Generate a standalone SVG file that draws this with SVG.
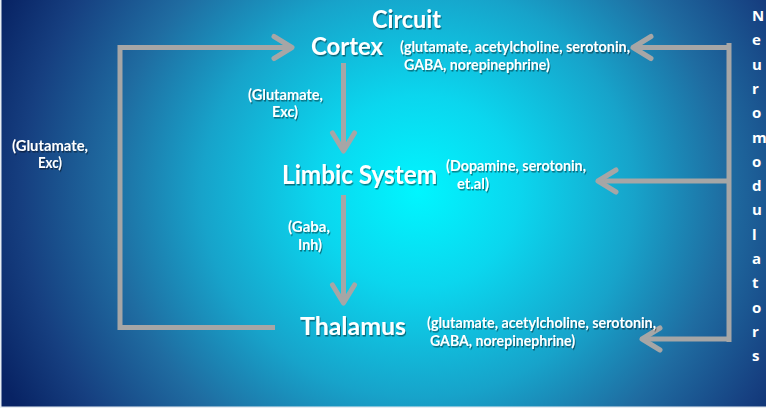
<svg xmlns="http://www.w3.org/2000/svg" width="766" height="408" viewBox="0 0 766 408">
  <defs>
    <radialGradient id="bg" gradientUnits="userSpaceOnUse" cx="418" cy="192" r="460" gradientTransform="translate(418 192) scale(1 0.95) translate(-418 -192)">
      <stop offset="0" stop-color="#00f6ff"/>
      <stop offset="0.22" stop-color="#0bd6ee"/>
      <stop offset="0.47" stop-color="#17a3ca"/>
      <stop offset="0.67" stop-color="#1f6ca1"/>
      <stop offset="0.86" stop-color="#163f80"/>
      <stop offset="1" stop-color="#082364"/>
    </radialGradient>
    <filter id="shadow" x="-10%" y="-30%" width="120%" height="160%">
      <feDropShadow dx="1" dy="1.5" stdDeviation="0.7" flood-color="#000" flood-opacity="0.45"/>
    </filter>
    <marker id="chev" markerUnits="userSpaceOnUse" orient="auto" markerWidth="30" markerHeight="30" viewBox="-24 -15 30 30" refX="0" refY="0">
      <path d="M-18,-11 L0,0 L-18,11" fill="none" stroke="#a6a6a6" stroke-width="5" stroke-linecap="round" stroke-linejoin="round"/>
    </marker>
    <style>
      .node { font-family: Lato, "Open Sans", "Liberation Sans", sans-serif; font-weight: 700; fill: #ffffff; filter: url(#shadow); }
      .big { font-size: 25px; }
      .note { font-family: Lato, "Open Sans", "Liberation Sans", sans-serif; font-weight: 700; font-size: 14.5px; fill: #ffffff; filter: url(#shadow); }
      .side { font-family: "Open Sans", "Liberation Sans", sans-serif; font-weight: 700; font-size: 15px; fill: #ffffff; }
      .wire { fill: none; stroke: #a6a6a6; stroke-width: 5; }
    </style>
  </defs>

  <!-- background -->
  <rect x="0" y="0" width="766" height="408" fill="url(#bg)"/>
  <rect x="0" y="0" width="1.5" height="408" fill="#e8eef4"/>
  <rect x="0" y="406.5" width="766" height="1.5" fill="#e8eef4"/>

  <!-- connectors -->
  <g id="connectors">
    <path class="wire" d="M275,327.5 H120 V47.5 H292" marker-end="url(#chev)"/>
    <path class="wire" d="M343.5,63 V151" marker-end="url(#chev)"/>
    <path class="wire" d="M343.5,195 V303" marker-end="url(#chev)"/>
    <path class="wire" d="M729,43 V342"/>
    <path class="wire" d="M729,47.5 H633" marker-end="url(#chev)"/>
    <path class="wire" d="M729,181 H598" marker-end="url(#chev)"/>
    <path class="wire" d="M729,339 H642" marker-end="url(#chev)"/>
  </g>

  <!-- title -->
  <g id="title">
    <text class="node big" x="372" y="28" textLength="69" lengthAdjust="spacingAndGlyphs">Circuit</text>
  </g>

  <!-- nodes -->
  <g id="cortex">
    <text class="node big" x="311" y="55" textLength="72" lengthAdjust="spacingAndGlyphs">Cortex</text>
    <text class="note" x="400" y="52" textLength="230" lengthAdjust="spacingAndGlyphs">(glutamate, acetylcholine, serotonin,</text>
    <text class="note" x="404" y="70" textLength="146" lengthAdjust="spacingAndGlyphs">GABA, norepinephrine)</text>
  </g>

  <g id="limbic">
    <text class="node" x="282" y="184" font-size="27" textLength="155" lengthAdjust="spacingAndGlyphs">Limbic System</text>
    <text class="note" x="446" y="171" textLength="140" lengthAdjust="spacingAndGlyphs">(Dopamine, serotonin,</text>
    <text class="note" x="457" y="189" textLength="32" lengthAdjust="spacingAndGlyphs">et.al)</text>
  </g>

  <g id="thalamus">
    <text class="node big" x="300" y="335" textLength="106" lengthAdjust="spacingAndGlyphs">Thalamus</text>
    <text class="note" x="427" y="328" textLength="229" lengthAdjust="spacingAndGlyphs">(glutamate, acetylcholine, serotonin,</text>
    <text class="note" x="430" y="346" textLength="145" lengthAdjust="spacingAndGlyphs">GABA, norepinephrine)</text>
  </g>

  <!-- pathway labels -->
  <g id="label-cortex-limbic">
    <text class="note" x="248" y="100" textLength="75" lengthAdjust="spacingAndGlyphs">(Glutamate,</text>
    <text class="note" x="272" y="117" textLength="26" lengthAdjust="spacingAndGlyphs">Exc)</text>
  </g>
  <g id="label-thalamus-cortex">
    <text class="note" x="12" y="151" textLength="76" lengthAdjust="spacingAndGlyphs">(Glutamate,</text>
    <text class="note" x="38" y="168" textLength="24" lengthAdjust="spacingAndGlyphs">Exc)</text>
  </g>
  <g id="label-limbic-thalamus">
    <text class="note" x="288" y="232" textLength="42" lengthAdjust="spacingAndGlyphs">(Gaba,</text>
    <text class="note" x="298" y="250" textLength="24" lengthAdjust="spacingAndGlyphs">Inh)</text>
  </g>

  <!-- vertical side label -->
  <g id="neuromodulators" class="side">
    <text x="752" y="21">N</text>
    <text x="752" y="45.3">e</text>
    <text x="752" y="69.6">u</text>
    <text x="752" y="93.9">r</text>
    <text x="752" y="118.2">o</text>
    <text x="752" y="142.5">m</text>
    <text x="752" y="166.8">o</text>
    <text x="752" y="191.1">d</text>
    <text x="752" y="215.4">u</text>
    <text x="752" y="239.7">l</text>
    <text x="752" y="264">a</text>
    <text x="752" y="288.3">t</text>
    <text x="752" y="312.6">o</text>
    <text x="752" y="336.9">r</text>
    <text x="752" y="361.2">s</text>
  </g>
</svg>
